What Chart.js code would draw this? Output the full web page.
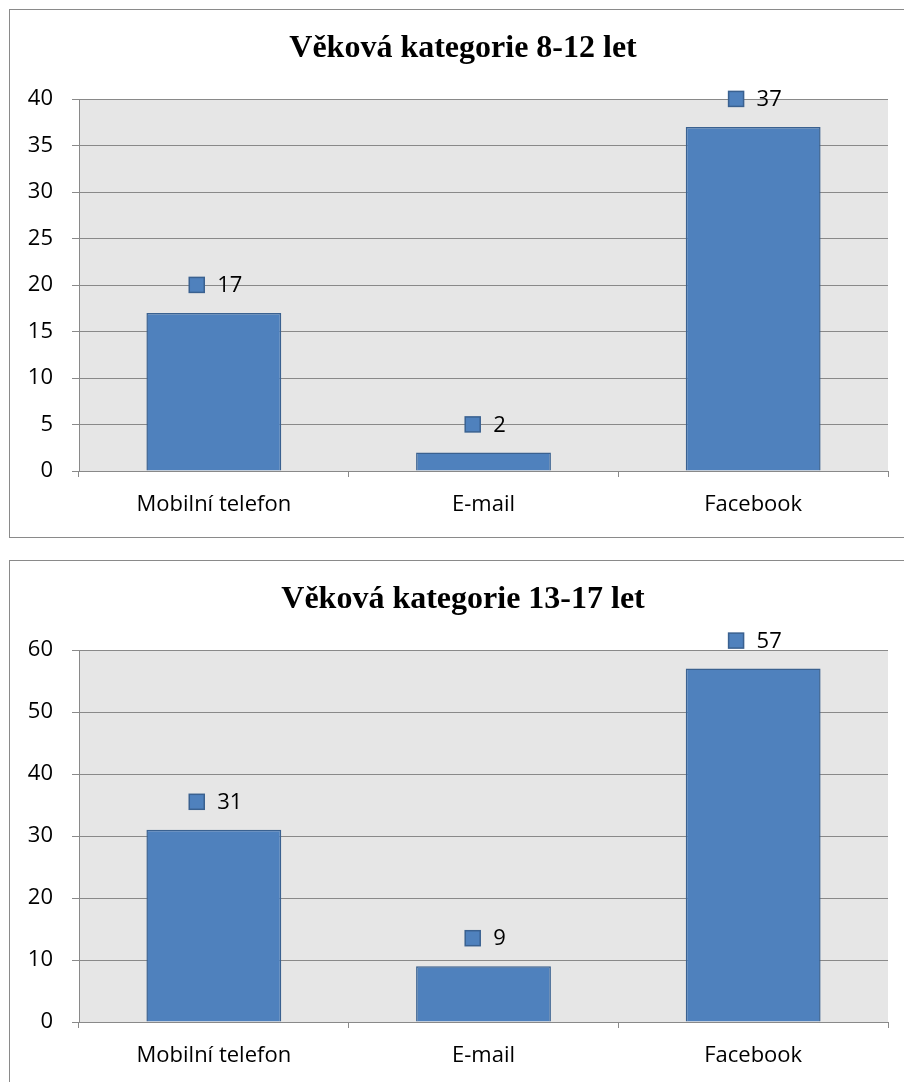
<!DOCTYPE html>
<html>
<head>
<meta charset="utf-8">
<script src="https://cdn.jsdelivr.net/npm/chart.js@4"></script>
<style>
  html, body { margin:0; padding:0; background:#fff; width:904px; height:1082px; overflow:hidden; }
  .box { position:absolute; left:9px; width:910px; height:527px; border:1px solid #8a8a8a; background:#fff; }
  .box canvas { position:absolute; left:0; top:0; }
</style>
</head>
<body>
<div class="box" style="top:9px"><canvas id="c1" width="906" height="527"></canvas></div>
<div class="box" style="top:560px"><canvas id="c2" width="906" height="527"></canvas></div>
<script>
const categories = ['Mobilní telefon', 'E-mail', 'Facebook'];
const values812 = [17, 2, 37];
const values1317 = [31, 9, 57];
const title812 = 'Věková kategorie 8-12 let';
const title1317 = 'Věková kategorie 13-17 let';
const yMax812 = 40, yStep812 = 5;
const yMax1317 = 60, yStep1317 = 10;

const FONT = 'Open Sans';
const FSIZE = 22;
const BAR = '#4f81bd';
const BAR_BORDER = '#3a6190';
const GRID = '#898989';

const bgPlugin = {
  id: 'plotBg',
  beforeDraw(chart) {
    const { ctx, chartArea: a } = chart;
    ctx.save();
    ctx.fillStyle = '#e6e6e6';
    ctx.fillRect(a.left, a.top, a.width, a.height);
    ctx.restore();
  }
};

const labelPlugin = {
  id: 'keyLabels',
  afterDatasetsDraw(chart) {
    const { ctx } = chart;
    const ds = chart.data.datasets[0];
    const meta = chart.getDatasetMeta(0);
    ctx.save();
    ctx.font = FSIZE + 'px "' + FONT + '"';
    ctx.textBaseline = 'middle';
    ctx.textAlign = 'left';
    meta.data.forEach((el, i) => {
      const txt = String(ds.data[i]);
      const sq = 15, gap = 13;
      const tw = ctx.measureText(txt).width;
      const total = sq + gap + tw;
      const left = el.x - total / 2 + 2;
      const cy = el.y - 28;
      ctx.fillStyle = BAR;
      ctx.strokeStyle = BAR_BORDER;
      ctx.lineWidth = 1.5;
      ctx.fillRect(left, cy - sq / 2, sq, sq);
      ctx.strokeRect(left, cy - sq / 2, sq, sq);
      ctx.fillStyle = '#000';
      ctx.fillText(txt, left + sq + gap, cy + 1);
    });
    ctx.restore();
  }
};

function makeChart(id, values, title, yMax, yStep) {
  return new Chart(document.getElementById(id), {
    type: 'bar',
    data: {
      labels: categories,
      datasets: [{
        data: values,
        backgroundColor: BAR,
        borderColor: BAR_BORDER,
        borderWidth: 1.5,
        categoryPercentage: 0.5,
        barPercentage: 1
      }]
    },
    options: {
      responsive: false,
      devicePixelRatio: 1,
      animation: false,
      layout: { padding: { left: 0, right: 0, top: 0, bottom: 0 } },
      plugins: {
        legend: { display: false },
        tooltip: { enabled: false },
        title: {
          display: true,
          text: title,
          color: '#000',
          font: { family: 'Liberation Serif', size: 32, weight: 'bold', lineHeight: 1.2 },
          padding: { top: 19.8, bottom: 30.8 }
        }
      },
      scales: {
        x: {
          grid: { offset: true, drawOnChartArea: false, color: GRID, tickLength: 6, tickColor: GRID },
          border: { color: GRID, width: 1 },
          ticks: { color: '#000', font: { family: FONT, size: FSIZE }, padding: 15 },
          afterFit(s) { s.height = 66; }
        },
        y: {
          min: 0,
          max: yMax,
          ticks: { stepSize: yStep, color: '#000', font: { family: FONT, size: FSIZE }, padding: 19 },
          grid: { color: GRID, tickLength: 7, tickColor: GRID },
          border: { color: GRID, width: 1 },
          afterFit(s) { s.width = 69; }
        },
        spacer: {
          type: 'linear',
          position: 'right',
          display: true,
          grid: { display: false, drawTicks: false },
          border: { display: false },
          ticks: { display: false },
          afterFit(s) { s.width = 28; }
        }
      }
    },
    plugins: [bgPlugin, labelPlugin]
  });
}

makeChart('c1', values812, title812, yMax812, yStep812);
makeChart('c2', values1317, title1317, yMax1317, yStep1317);
</script>
</body>
</html>
